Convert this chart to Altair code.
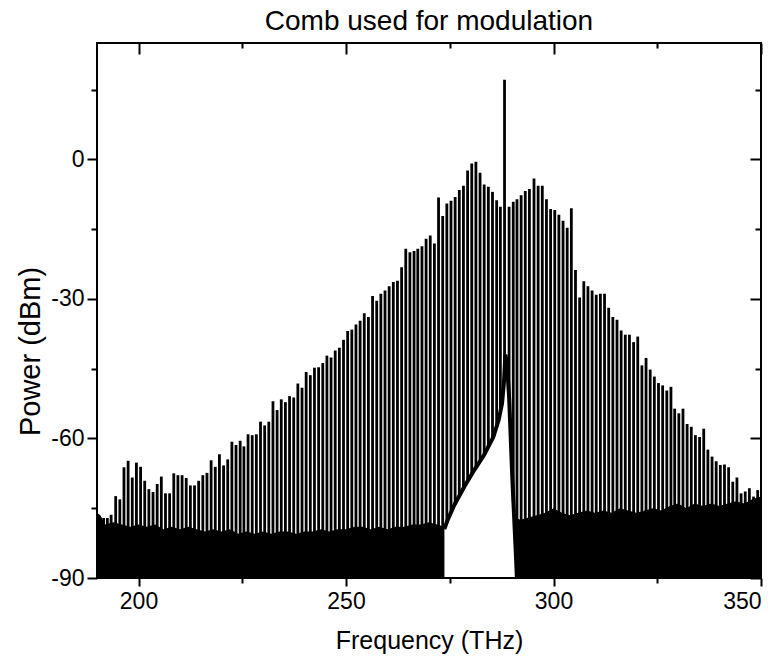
import altair as alt
import pandas as pd

FONT = "Liberation Sans"

# ---- comb lines: frequency (THz) and peak power (dBm) ----
comb_freq = [
    191.6, 192.5, 193.4, 194.5, 195.5, 196.5, 197.5, 198.5, 199.5, 200.5,
    201.5, 202.5, 203.5, 204.5, 205.5, 206.5, 207.5, 208.5, 209.5, 210.5,
    211.5, 212.5, 213.5, 214.5, 215.5, 216.5, 217.5, 218.5, 219.5, 220.5,
    221.5, 222.5, 223.5, 224.5, 225.4, 226.4, 227.4, 228.4, 229.4, 230.4,
    231.4, 232.4, 233.4, 234.4, 235.4, 236.4, 237.4, 238.4, 239.4, 240.4,
    241.4, 242.4, 243.4, 244.4, 245.4, 246.4, 247.4, 248.4, 249.4, 250.4,
    251.4, 252.4, 253.4, 254.4, 255.4, 256.4, 257.4, 258.4, 259.4, 260.4,
    261.4, 262.4, 263.4, 264.4, 265.4, 266.4, 267.3, 268.3, 269.3, 270.3,
    271.3, 272.3, 273.3, 274.3, 275.3, 276.3, 277.3, 278.3, 279.3, 280.3,
    281.3, 282.3, 283.3, 284.3, 285.3, 286.3, 287.2, 288.2, 289.3, 290.3,
    291.2, 292.2, 293.2, 294.2, 295.3, 296.3, 297.3, 298.3, 299.3, 300.3,
    301.3, 302.3, 303.3, 304.3, 305.3, 306.3, 307.3, 308.3, 309.3, 310.3,
    311.3, 312.3, 313.3, 314.3, 315.3, 316.3, 317.3, 318.3, 319.3, 320.3,
    321.3, 322.3, 323.3, 324.3, 325.3, 326.3, 327.3, 328.3, 329.2, 330.2,
    331.2, 332.2, 333.2, 334.2, 335.2, 336.2, 337.2, 338.2, 339.2, 340.2,
    341.2, 342.2, 343.2, 344.2, 345.2, 346.2, 347.2, 348.2, 349.2,
]
comb_peak = [
    -77.1, -77.1, -76.4, -72.4, -73.1, -66.2, -64.8, -68.4, -65.2, -66.1,
    -69.1, -70.9, -71.5, -69.8, -68.2, -71.8, -71.8, -67.5, -67.9, -67.9,
    -68.5, -70.1, -70.1, -69.1, -67.9, -67.4, -64.7, -66.1, -63.4, -65.8,
    -64.5, -60.7, -61.4, -60.5, -61.7, -59.1, -59.3, -59.1, -56.4, -57.2,
    -56.4, -52.0, -53.9, -51.6, -52.2, -50.9, -51.2, -48.2, -49.1, -45.7,
    -46.4, -44.8, -44.7, -43.8, -42.2, -42.6, -41.1, -40.5, -38.8, -36.9,
    -36.6, -35.5, -34.7, -33.1, -33.9, -29.4, -30.4, -28.9, -28.2, -27.3,
    -26.4, -26.1, -23.2, -19.2, -20.0, -19.7, -19.2, -18.7, -17.1, -16.4,
    -18.1, -8.2, -12.2, -9.5, -8.9, -8.1, -6.6, -5.7, -2.4, -0.9,
    -0.5, -2.9, -5.4, -5.9, -7.0, -8.8, -10.2, 17.1, -10.2, -9.1,
    -8.6, -7.7, -6.8, -6.4, -4.1, -5.7, -5.7, -8.6, -10.7, -10.9,
    -11.9, -13.2, -14.7, -10.5, -23.8, -29.7, -26.2, -27.3, -28.2, -29.1,
    -28.9, -28.9, -31.9, -33.9, -34.5, -36.8, -37.7, -37.7, -39.3, -38.1,
    -44.3, -42.7, -45.2, -46.7, -48.1, -48.6, -49.7, -48.9, -53.6, -54.6,
    -53.6, -56.9, -57.5, -59.3, -59.7, -57.9, -62.4, -63.9, -64.9, -65.7,
    -65.6, -66.2, -69.3, -68.4, -71.8, -71.4, -70.7, -72.5, -71.1,
]

# lines inside the filtered notch start from the pedestal, not from the floor
notch_freq = [274.3, 275.3, 276.3, 277.3, 278.3, 279.3, 280.3, 281.3, 282.3,
              283.3, 284.3, 285.3, 286.3, 287.2, 288.2, 289.3, 290.3, 291.2]
notch_base = [-78.0, -76.0, -74.3, -72.6, -70.8, -69.3, -67.7, -66.4, -65.1,
              -63.5, -62.0, -60.3, -57.8, -54.5, -47.0, -51.0, -73.5, -89.0]

# ---- noise floor (top of the dense black band) ----
floor_left_freq = [190, 190.8, 192, 194, 196, 198, 200, 202, 204, 206, 208, 210,
                   212, 214, 216, 218, 220, 222, 224, 226, 228, 230, 232, 234,
                   236, 238, 240, 242, 244, 246, 248, 250, 252, 254, 256, 258,
                   260, 262, 264, 266, 268, 270, 272, 273.7]
floor_left_level = [-76.0, -76.5, -78.5, -78.0, -78.5, -79.0, -78.5, -79.0, -78.5,
                    -79.5, -79.0, -79.5, -79.0, -79.5, -80.0, -79.5, -80.0, -79.5,
                    -80.5, -80.0, -80.5, -80.0, -80.5, -80.0, -80.0, -80.5, -80.0,
                    -80.0, -79.5, -80.0, -79.5, -79.5, -79.0, -79.0, -79.5, -79.0,
                    -79.5, -79.0, -79.0, -78.5, -78.5, -78.0, -78.5, -79.0]
floor_right_freq = [290.7, 292, 294, 296, 298, 300, 302, 304, 306, 308, 310, 312,
                    314, 316, 318, 320, 322, 324, 326, 328, 330, 332, 334, 336,
                    338, 340, 342, 344, 346, 348, 350]
floor_right_level = [-77.0, -77.5, -77.0, -76.5, -76.0, -75.0, -76.0, -76.5, -76.0,
                     -75.5, -76.0, -75.5, -76.0, -75.0, -75.5, -76.0, -75.5, -75.0,
                     -75.5, -74.5, -74.0, -75.0, -74.0, -74.5, -74.0, -74.5, -74.0,
                     -73.5, -74.0, -73.0, -72.5]

# ---- pedestal edge bounding the white notch ----
pedestal_freq = [273.7, 274.5, 276.1, 278.5, 280.9, 283.3, 285.5, 286.8, 287.6,
                 288.1, 288.4, 288.8, 289.3, 290.1, 291.2]
pedestal_level = [-79.5, -77.5, -74.3, -70.4, -66.8, -63.5, -59.7, -56.0, -52.5,
                  -47.5, -42.0, -44.0, -51.0, -69.0, -90.0]

base_map = dict(zip(notch_freq, notch_base))
comb = pd.DataFrame({"f": comb_freq, "p": comb_peak,
                     "b": [base_map.get(f, -90.0) for f in comb_freq]})
floor_l = pd.DataFrame({"f": floor_left_freq, "v": floor_left_level})
floor_r = pd.DataFrame({"f": floor_right_freq, "v": floor_right_level})
ped = pd.DataFrame({"f": pedestal_freq, "v": pedestal_level})

xs = alt.Scale(domain=[190, 350], nice=False, zero=False)
ys = alt.Scale(domain=[-90, 25], nice=False, zero=False)


def ax(**kw):
    d = dict(grid=False, domain=False, tickColor="black", tickWidth=2,
             labelFont=FONT, labelColor="black", titleFont=FONT,
             titleColor="black", titleFontWeight="normal")
    d.update(kw)
    return alt.Axis(**d)


x_major_bottom = ax(orient="bottom", values=[200, 250, 300, 350], tickSize=8,
                    labelFontSize=23, labelPadding=22, labelBaseline="alphabetic",
                    titleFontSize=25, titleBaseline="alphabetic", titleY=70)
x_minor_bottom = ax(orient="bottom", values=[225, 275, 325], tickSize=5, labels=False)
x_major_top = ax(orient="top", values=[200, 250, 300, 350], tickSize=11, offset=-11,
                 labels=False, minExtent=0)
x_minor_top = ax(orient="top", values=[225, 275, 325], tickSize=5, offset=-5,
                 labels=False, minExtent=0)
y_major_left = ax(orient="left", values=[-90, -60, -30, 0], tickSize=10,
                  labelFontSize=23, labelPadding=3, labelExpr="datum.value + ''",
                  titleFontSize=29, titleX=-52, titleY=308)
y_minor_left = ax(orient="left", values=[-75, -45, -15, 15], tickSize=6, labels=False)
y_major_right = ax(orient="right", values=[-90, -60, -30, 0], tickSize=11, offset=-11,
                   labels=False)
y_minor_right = ax(orient="right", values=[-75, -45, -15, 15], tickSize=6, offset=-6,
                   labels=False)

floor_left_layer = alt.Chart(floor_l).mark_area(color="black").encode(
    x=alt.X("f:Q", scale=xs, axis=x_major_bottom, title="Frequency (THz)"),
    y=alt.Y("v:Q", scale=ys, axis=y_major_left, title="Power (dBm)"),
    y2=alt.datum(-90),
)
floor_right_layer = alt.Chart(floor_r).mark_area(color="black").encode(
    x=alt.X("f:Q", scale=xs, axis=x_minor_bottom, title=None),
    y=alt.Y("v:Q", scale=ys, axis=y_minor_left, title=None),
    y2=alt.datum(-90),
)
comb_layer = alt.Chart(comb).mark_rule(color="black", strokeWidth=2.8).encode(
    x=alt.X("f:Q", scale=xs, axis=x_major_top, title=None),
    y=alt.Y("p:Q", scale=ys, axis=y_major_right, title=None),
    y2="b:Q",
)
ped_layer = alt.Chart(ped).mark_line(color="black", strokeWidth=4).encode(
    x=alt.X("f:Q", scale=xs, axis=x_minor_top, title=None),
    y=alt.Y("v:Q", scale=ys, axis=y_minor_right, title=None),
)

chart = alt.layer(
    floor_left_layer, floor_right_layer, comb_layer, ped_layer
).resolve_axis(
    x="independent", y="independent"
).properties(
    width=664,
    height=535,
    title=alt.Title("Comb used for modulation", fontSize=28, font=FONT,
                    fontWeight="normal", color="black", anchor="middle",
                    frame="group", offset=6),
    autosize=alt.AutoSizeParams(type="none"),
    padding={"left": 97, "top": 43, "right": 20, "bottom": 86},
).configure_view(stroke="black", strokeWidth=2)

chart.save("out.html", embed_options={"renderer": "svg", "actions": False})
